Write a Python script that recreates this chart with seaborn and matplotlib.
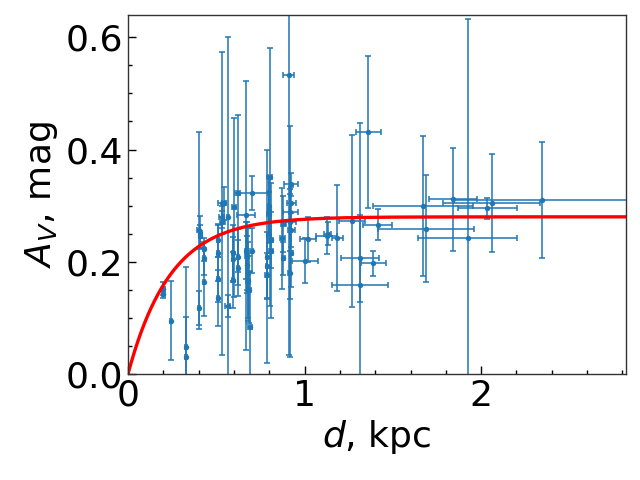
import numpy as np
import pandas as pd
import matplotlib
matplotlib.use('Agg')
import matplotlib.pyplot as plt
import matplotlib.ticker as mticker
import seaborn as sns

# ── Data ─────────────────────────────────────────────────────────────────────
dist = [0.20, 0.20, 0.245, 0.33, 0.33, 0.40, 0.41, 0.41, 0.40, 0.43,
        0.43, 0.43, 0.51, 0.51, 0.51, 0.51, 0.53, 0.545, 0.53, 0.535,
        0.565, 0.565, 0.595, 0.595, 0.595, 0.60, 0.625, 0.625, 0.625, 0.70,
        0.67, 0.67, 0.675, 0.675, 0.68, 0.68, 0.685, 0.69, 0.70, 0.785,
        0.785, 0.785, 0.805, 0.80, 0.80, 0.80, 0.81, 0.81, 0.88, 0.875,
        0.88, 0.91, 0.925, 0.925, 0.92, 0.92, 0.925, 0.925, 0.915, 1.003,
        1.02, 1.126, 1.13, 1.186, 1.267, 1.314, 1.314, 1.362, 1.39, 1.415,
        1.67, 1.688, 1.84, 1.923, 2.036, 2.06, 2.347]
av = [0.152, 0.143, 0.095, 0.048, 0.031, 0.256, 0.252, 0.245, 0.117, 0.222,
      0.206, 0.164, 0.238, 0.215, 0.169, 0.135, 0.304, 0.304, 0.28, 0.27,
      0.121, 0.28, 0.215, 0.204, 0.167, 0.297, 0.322, 0.209, 0.189, 0.322,
      0.283, 0.22, 0.21, 0.195, 0.18, 0.165, 0.15, 0.084, 0.22, 0.209,
      0.193, 0.176, 0.351, 0.30, 0.293, 0.285, 0.238, 0.22, 0.268, 0.242,
      0.206, 0.533, 0.338, 0.304, 0.288, 0.27, 0.256, 0.215, 0.18, 0.202,
      0.24, 0.246, 0.25, 0.242, 0.273, 0.206, 0.158, 0.431, 0.197, 0.266,
      0.299, 0.259, 0.311, 0.243, 0.295, 0.305, 0.31]
dist_err = [0.01, 0.01, 0.005, 0.005, 0.005, 0.01, 0.01, 0.01, 0.005, 0.005,
            0.005, 0.005, 0.005, 0.005, 0.005, 0.005, 0.02, 0.01, 0.015, 0.015,
            0.015, 0.005, 0.005, 0.005, 0.005, 0.01, 0.01, 0.005, 0.005, 0.095,
            0.05, 0.005, 0.01, 0.005, 0.005, 0.01, 0.01, 0.01, 0.01, 0.005,
            0.005, 0.01, 0.01, 0.005, 0.005, 0.01, 0.01, 0.01, 0.015, 0.015,
            0.01, 0.03, 0.04, 0.025, 0.04, 0.03, 0.02, 0.01, 0.01, 0.075,
            0.047, 0.06, 0.02, 0.03, 0.073, 0.11, 0.157, 0.073, 0.07, 0.082,
            0.283, 0.274, 0.137, 0.278, 0.168, 0.274, 0.5]
av_err = [0.012, 0.008, 0.07, 0.143, 0.07, 0.176, 0.03, 0.02, 0.03, 0.02,
          0.03, 0.06, 0.03, 0.05, 0.04, 0.05, 0.27, 0.03, 0.02, 0.02,
          0.02, 0.32, 0.05, 0.04, 0.05, 0.16, 0.14, 0.05, 0.05, 0.03,
          0.24, 0.05, 0.06, 0.05, 0.08, 0.07, 0.06, 0.1, 0.04, 0.19,
          0.06, 0.04, 0.23, 0.05, 0.06, 0.04, 0.05, 0.12, 0.05, 0.09,
          0.03, 0.5, 0.02, 0.03, 0.154, 0.05, 0.03, 0.06, 0.15, 0.04,
          0.04, 0.033, 0.02, 0.095, 0.153, 0.078, 0.29, 0.135, 0.022, 0.028,
          0.125, 0.096, 0.092, 0.39, 0.019, 0.087, 0.104]

# fitted model A(d) = A_inf * (1 - exp(-d / h))
A_INF = 0.28
H_SCALE = 0.24

df = pd.DataFrame({'d': dist, 'Av': av, 'd_err': dist_err, 'Av_err': av_err})
d_fit = np.linspace(0, 2.82, 300)
fit = pd.DataFrame({'d': d_fit, 'Av': A_INF * (1 - np.exp(-d_fit / H_SCALE))})

sns.set_style('ticks')
plt.rcParams.update({
    'xtick.direction': 'in',
    'ytick.direction': 'in',
    'font.size': 26,
    'text.color': 'black',
    'axes.labelcolor': 'black',
    'xtick.color': 'black',
    'ytick.color': 'black',
    'axes.edgecolor': '#333333',
})

fig, ax = plt.subplots(figsize=(6.4, 4.8), dpi=100)
fig.subplots_adjust(left=0.2, right=0.978, bottom=0.221, top=0.969)

ax.errorbar(df['d'], df['Av'], xerr=df['d_err'], yerr=df['Av_err'],
            fmt='none', ecolor='#1f77b4', elinewidth=1.1, capsize=2, capthick=1.1)
sns.scatterplot(data=df, x='d', y='Av', color='#1f77b4', s=15, linewidth=0, ax=ax)
sns.lineplot(data=fit, x='d', y='Av', color='red', linewidth=2.4, ax=ax)

ax.set_xlim(0, 2.82)
ax.set_ylim(0, 0.64)
ax.xaxis.set_major_locator(mticker.MultipleLocator(1))
ax.xaxis.set_minor_locator(mticker.MultipleLocator(0.2))
ax.yaxis.set_major_locator(mticker.MultipleLocator(0.2))
ax.yaxis.set_minor_locator(mticker.MultipleLocator(0.05))
ax.yaxis.set_major_formatter(mticker.FormatStrFormatter('%.1f'))
ax.tick_params(which='major', direction='in', length=6, width=1, labelsize=26,
               color='black', labelcolor='black')
ax.tick_params(which='minor', direction='in', length=3, width=1, color='black')
for sp in ax.spines.values():
    sp.set_visible(True)
    sp.set_color('#333333')
    sp.set_linewidth(1)

ax.set_xlabel('$d$, kpc', fontsize=26, color='black')
ax.set_ylabel('$A_V$, mag', fontsize=26, color='black')

plt.savefig('out.png', dpi=100)
plt.close()
